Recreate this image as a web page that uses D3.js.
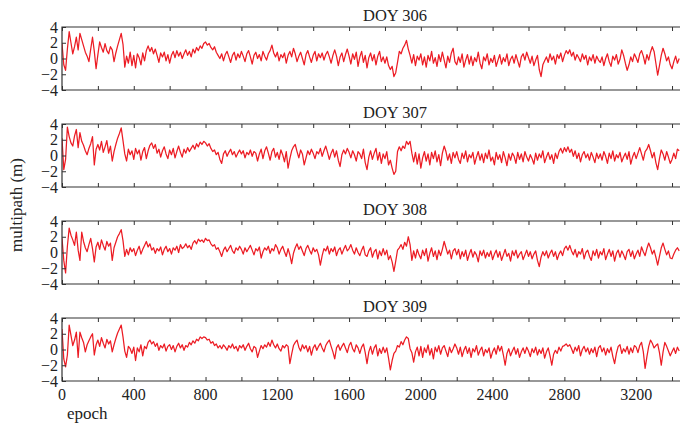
<html>
<head>
<meta charset="UTF-8">
<title>Multipath DOY 306-309</title>
<script src="https://d3js.org/d3.v7.min.js"></script>
<style>
  body { margin: 0; background: #fff; }
  text { font-family: "Liberation Serif", "DejaVu Serif", serif; fill: #222; }
  .frame { stroke: #333; stroke-width: 1.2; fill: none; }
  .tick line { stroke: #333; }
  .trace { fill: none; stroke: #ec1c24; stroke-width: 1.25; stroke-linejoin: round; }
</style>
</head>
<body>
<svg width="680" height="428"></svg>
<script>

// multipath (m), one value every 10 epochs
var doy306 = [
  1.9, -0.8, -1.5, 1.2, 3.4, 2.0, 0.6, 1.5, 2.7, 1.1, 3.2, 2.4, 1.6, 0.8, 0.3, -0.4, 1.2, 2.7, 0.9, -1.3,
  0.5, 2.1, 1.4, 0.8, 1.9, 1.0, 0.6, 1.5, 1.1, -0.4, 0.7, 1.6, 2.4, 3.2, 1.8, -1.1, 0.3, -0.6, 0.8, -0.9,
  0.4, -1.2, 0.6, 0.1, -0.8, 0.7, -0.3, 1.0, 1.6, 0.9, 1.4, 0.6, 1.2, 0.4, -0.5, 0.7, 0.2, 0.8, -0.3, 0.5,
  -0.6, 0.4, 0.9, 0.1, 1.0, 0.3, 0.8, 0.0, 0.6, 1.1, 0.4, 0.9, 0.2, 1.2, 0.7, 1.4, 1.0, 1.6, 1.3, 1.9,
  2.1, 1.7, 1.9, 1.4, 1.1, 1.5, 0.8, 0.4, 0.0, 0.6, -0.3, 0.5, 0.9, 0.2, -0.5, 0.4, 0.8, -0.2, 0.6, 0.1,
  0.9, 0.3, -0.4, 0.6, 1.0, 0.2, -0.7, 0.4, 0.8, 0.0, 0.5, -0.3, 0.9, 0.3, -0.2, 0.6, 1.0, 1.7, 0.7, 0.2,
  0.8, -0.3, 0.5, 0.1, 0.7, -0.6, 0.4, 0.9, 0.2, 1.3, 0.6, -0.4, 0.3, 0.8, 0.0, -0.8, 0.5, 1.0, 0.2, -0.5,
  0.4, 0.9, -0.3, 0.6, 0.1, 0.7, -0.2, 0.5, 0.9, 0.2, -0.6, 0.4, 1.1, 0.3, -0.9, 0.2, 0.7, -0.4, 0.5, 1.2,
  0.3, -0.7, 0.6, -0.1, 0.8, -1.0, 0.2, 0.9, -0.5, 0.4, -1.2, 0.1, 0.7, -0.3, 0.5, -0.8, 0.3, 0.9, -0.4, 0.2,
  -0.6, 0.2, -0.9, -1.4, -1.0, -2.3, -1.8, -0.5, 0.9, 0.6, 1.3, 1.7, 2.3, 1.2, 0.4, -0.6, 0.5, -0.9, 0.3, -0.2,
  0.6, -0.8, 0.2, -1.1, 0.4, -0.3, 0.9, -0.6, 0.1, -1.0, 0.5, -0.4, 0.8, -0.2, -1.2, 0.3, -0.5, 0.7, 1.3, -0.4,
  -0.8, 0.2, -0.5, 0.6, -1.1, -0.2, 0.5, -0.7, 0.3, -0.9, 0.1, -0.4, 0.8, -0.6, -1.3, 0.2, -0.3, 0.6, -0.8, 0.0,
  -0.5, 0.4, -1.0, -0.2, 0.5, -0.7, 0.1, -0.4, 0.6, -0.9, -0.1, 0.3, -0.6, 0.5, -0.3, -1.1, 0.2, 0.6, -0.2, 0.8,
  0.1, -0.6, 0.3, -0.9, -0.2, 0.4, -1.4, -2.3, -0.8, -0.3, 0.2, -0.5, 0.6, -0.2, 0.3, -0.7, 0.5, 0.0, 0.7, -0.4,
  0.4, 1.0, 0.6, 1.1, 0.3, 0.8, -0.2, 0.5, 0.1, -0.4, 0.6, -0.1, 0.4, -0.8, 0.2, -0.3, 0.5, -0.6, 0.3, -0.2,
  -0.5, 0.2, -0.9, 0.0, 0.6, -0.4, -1.0, 0.3, -0.2, 0.5, -0.7, -0.1, 1.1, 0.4, -0.6, -1.5, -0.8, 0.2, -0.4, 0.6,
  0.1, -0.5, 0.6, 1.0, 0.3, -0.7, 0.5, -0.2, 0.8, 1.5, 0.9, -0.6, -2.1, -0.9, 0.4, 1.3, 0.6, -0.3, 0.2, -0.8,
  -1.3, -0.4, 0.3, -0.6, 0.0
];

var doy307 = [
  2.2, -1.8, -0.5, 3.6, 2.4, 1.6, 1.2, 2.5, 3.3, 1.0, 2.9, 1.8, 1.3, 0.6, 0.1, 0.9, 1.5, 2.4, -1.2, 0.8,
  1.4, 0.7, 1.8, 0.4, 1.1, 1.9, 0.3, 1.2, -0.7, 0.5, 1.4, 2.2, 2.8, 3.5, 1.9, 0.2, -0.7, 0.8, 0.1, 0.6,
  -0.5, 0.9, 0.2, 0.7, -0.6, 0.5, 1.0, -0.4, 0.6, 1.3, 1.6, 0.9, 1.4, 0.3, 0.8, -0.2, 0.6, 1.1, 0.2, -0.4,
  0.7, 0.1, 0.9, -0.3, 0.5, 1.2, 0.4, -0.2, 0.8, 0.3, 1.0, 0.5, 0.9, 1.3, 0.8, 1.5, 1.1, 1.7, 1.4, 1.8,
  1.6, 1.2, 1.5, 0.9, 0.5, 0.7, 0.1, 0.4, -0.5, -1.0, 0.2, 0.6, -0.1, 0.4, 0.8, 0.1, 0.5, -0.2, 0.3, 0.7,
  0.2, 0.6, -0.3, 0.4, 0.1, 0.7, -0.1, 0.5, 0.3, -0.7, 0.2, 0.8, -0.4, 0.6, 1.1, 0.3, -0.6, 0.5, 0.9, -0.2,
  0.4, -0.5, 0.7, 0.1, -0.8, 0.5, -1.6, -0.4, 0.6, 1.1, 1.4, 0.5, -0.3, 0.7, 0.2, -1.2, -0.3, 0.6, 0.1, 0.8,
  0.3, -0.4, 0.5, 0.2, 0.9, -0.1, 0.6, 1.2, 0.4, -0.5, 0.3, 0.8, -0.2, 0.6, -0.6, -1.4, 0.1, 0.7, 0.2, 0.9,
  0.4, -0.3, 0.6, 0.1, -0.7, 0.5, 0.2, -0.4, 0.8, -0.9, -1.8, -0.2, 0.6, -0.5, 0.3, 0.9, -0.6, 0.4, -1.0, 0.2,
  -0.4, 0.5, -1.2, -0.6, -1.6, -2.4, -2.0, 0.5, 1.1, 0.6, 1.2, 0.9, 1.8, 1.4, 1.8, 0.3, -0.8, 0.4, -1.1, 0.2,
  -1.6, -0.3, 0.5, -0.7, 0.2, -1.2, 0.4, -0.4, 0.6, -0.8, 0.1, -1.3, 0.3, 1.2, 0.5, -0.6, 0.2, -1.0, 0.4, -0.3,
  0.5, -0.5, -1.0, 0.3, -0.4, 0.6, -0.8, 0.1, -0.3, 0.4, -1.1, -0.2, 0.5, -0.6, 0.2, -0.9, 0.3, -0.4, 0.7, -0.7,
  -0.2, -1.2, 0.4, -0.5, 0.1, -0.9, 0.5, -0.3, -1.3, 0.2, -0.6, 0.3, -0.1, -1.0, 0.4, -0.5, 0.2, -0.8, 0.5, -0.2,
  -0.7, 0.1, -0.4, -1.1, 0.3, -0.6, 0.2, -0.3, 0.6, -0.9, -0.2, 0.4, -0.5, 0.1, -1.0, 0.3, -0.4, 0.5, 0.9, 0.3,
  1.0, 0.5, 1.1, 0.4, 0.8, -0.1, 0.6, -0.4, 0.3, -0.8, 0.1, 0.5, -0.3, 0.2, -0.6, 0.4, -0.2, -0.9, 0.3, -0.4,
  0.2, -0.6, 0.5, -0.1, -1.0, 0.3, -0.4, 0.6, -0.7, 0.1, -0.3, 0.4, -0.8, -0.2, 0.3, -0.5, 0.5, -1.1, -0.2, 0.4,
  -0.4, 0.3, 1.0, 0.2, -0.6, 0.5, 0.8, 1.4, 0.6, -0.3, 0.4, -0.9, -1.8, -0.4, 0.7, 0.2, -0.6, 0.5, -0.2, -1.0,
  -0.5, 0.3, -0.4, 0.8, 0.6
];

var doy308 = [
  1.8, -1.0, -2.6, 0.8, 3.1, 2.2, 1.6, 0.9, 2.6, 0.3, -1.0, 2.6, 1.4, 0.6, 0.1, 1.0, 1.8, 0.5, -1.2, 0.7,
  1.3, 0.4, 1.6, 0.9, 0.3, 1.4, 0.8, 1.2, -1.0, 0.6, 1.3, 2.0, 2.4, 2.9, 1.5, -0.5, 0.4, -0.3, 0.6, 0.1,
  0.5, -0.4, 0.3, 0.8, -0.2, 0.4, 0.9, 1.4, 0.7, 1.1, 0.3, 0.6, -0.1, 0.5, 0.2, 0.7, -0.3, 0.4, 0.8, 0.1,
  0.5, -0.2, 0.6, 0.3, 0.8, 0.0, 1.0, 0.5, 0.7, 1.1, 0.6, 0.9, 0.4, 1.2, 1.5, 1.1, 1.7, 1.4, 1.6, 1.3,
  1.8, 1.5, 1.6, 1.1, 0.8, 1.0, 0.4, 0.6, 0.1, -0.5, 0.3, 0.7, 0.1, 0.5, 0.9, 0.2, -0.1, 0.6, 0.3, 0.8,
  0.4, -0.2, 0.6, 0.1, 0.5, 0.9, 0.3, -0.3, 0.5, 0.2, 0.7, -0.7, 0.1, 0.6, 0.3, 0.8, -0.1, 0.5, 0.2, 1.0,
  0.6, -0.2, 0.4, 0.8, 0.1, -0.5, 0.5, -0.3, -1.4, -0.1, 0.6, 1.1, 0.4, 0.8, 0.2, -0.4, 0.5, 0.9, 0.3, -0.2,
  0.6, 0.1, 0.4, -0.3, -1.6, -0.4, 0.5, 0.2, 0.8, -0.2, 0.5, 0.1, 0.7, -0.4, 0.3, 0.6, -0.2, 0.4, 0.9, 0.2,
  0.5, 1.0, 0.3, -0.2, 0.6, 0.0, -0.4, 0.3, 0.8, -0.3, -0.5, 0.2, 0.6, -0.6, 0.1, 0.4, -0.8, 0.2, -0.4, 0.5,
  -0.3, 0.3, -0.9, -0.4, -1.2, -2.4, -1.1, 0.3, 0.6, 1.0, 0.4, 1.3, 0.8, 2.0, 1.0, -1.0, 0.2, -0.7, 0.4, -0.3,
  -0.8, 0.3, -0.4, 0.5, -1.1, -0.1, 0.6, -0.5, 0.2, -0.9, 0.3, -0.4, 0.4, 1.4, 0.6, -0.2, 0.3, -0.8, 0.2, 0.5,
  -0.3, 0.4, -0.8, 0.1, -0.5, 0.3, -1.0, -0.2, 0.4, -0.6, 0.1, -0.3, -1.2, 0.2, -0.4, 0.3, -0.7, 0.0, -0.5, 0.2,
  -0.9, -0.2, 0.3, -0.6, 0.1, -1.0, -0.3, 0.4, -0.5, -0.1, -1.1, 0.2, -0.4, 0.3, -0.7, -0.2, 0.1, -0.9, -0.3, 0.3,
  -0.5, 0.1, -0.8, -0.2, 0.2, -1.0, -1.8, -0.6, 0.1, -0.4, 0.2, -0.7, -0.1, 0.3, -0.5, 0.1, -0.9, -0.2, 0.2, -0.4,
  0.5, 0.8, 0.3, 0.9, 0.2, -0.3, 0.4, -0.6, 0.1, -0.2, 0.5, -0.8, 0.0, 0.3, -0.5, -1.0, 0.2, -0.4, 0.4, -0.7,
  0.1, -0.3, 0.5, -0.9, -0.2, 0.4, -0.5, 0.2, -1.1, -0.1, 0.3, -0.6, 0.2, -0.3, -0.9, 0.1, 0.4, -0.5, 0.2, -0.8,
  -0.2, 0.3, -0.5, 0.7, 0.1, -0.4, 0.5, 1.2, 0.6, -0.2, 0.3, -0.6, -1.6, -0.5, 0.6, 1.2, 0.4, -0.3, 0.2, -0.7,
  -0.8, -0.2, 0.3, 0.6, 0.2
];

var doy309 = [
  2.6, -1.2, -2.2, -0.7, 3.1, 1.8, 0.5, 1.2, 2.2, -1.0, 2.2, 1.5, 0.9, -0.3, 0.6, 1.1, 1.6, 2.0, -0.7, 0.6,
  1.2, 0.4, 1.5, 0.8, 0.2, 1.3, 0.7, 1.1, -0.3, 0.6, 1.4, 2.1, 2.6, 3.1, 1.6, -0.2, -1.0, 0.4, 0.1, -0.5,
  0.3, -1.4, 0.2, -0.3, 0.6, -0.8, 0.4, 0.1, 0.9, 1.2, 0.7, 1.0, 0.4, 0.8, -0.1, 0.5, 0.2, 0.7, -0.2, 0.4,
  0.6, 0.0, 0.5, -0.3, 0.4, 0.8, 0.2, 0.6, -0.1, 0.5, 0.3, 0.9, 0.6, 1.1, 0.8, 1.3, 1.1, 1.6, 1.4, 1.6,
  1.5, 1.2, 1.3, 0.8, 1.0, 0.5, 0.7, 0.2, 0.5, 0.1, 0.6, 0.3, -0.1, 0.5, 0.2, 0.7, 0.1, 0.4, -0.2, 0.5,
  0.2, 0.6, -0.1, 0.4, 0.8, 0.1, -0.3, 0.4, 0.2, -1.0, -0.2, 0.5, 0.1, 0.6, 0.3, 0.9, 0.4, 1.2, 0.6, 0.2,
  0.7, 0.1, -0.2, 0.5, 0.2, 0.6, 0.4, -1.8, -0.6, 0.5, 0.9, 1.2, 0.3, -0.2, 0.6, 0.1, 0.5, -0.3, 0.4, -0.7,
  0.2, 0.6, -0.1, 0.4, 0.8, 0.2, -0.3, 0.5, 0.9, 1.2, 0.4, -0.3, -1.2, 0.2, 0.6, -0.1, 0.4, 0.8, 0.2, -0.4,
  0.5, 0.9, 0.1, -0.3, 0.6, 0.2, -0.5, 0.3, 0.7, -0.4, -1.8, -0.3, 0.4, -0.6, 0.2, 0.6, -0.8, 0.1, -0.5, 0.3,
  -0.4, 0.2, -1.1, -2.6, -1.4, -0.5, -0.2, 0.5, 0.3, 1.0, 0.6, 1.2, 1.6, 1.4, 0.1, -0.4, -1.6, -0.3, 0.3, -0.8,
  0.4, -1.0, 0.2, -0.4, 0.6, -0.7, 0.1, -1.2, 0.3, -0.3, 0.5, -0.6, 0.2, 0.5, -0.2, -0.9, 0.3, -0.4, 0.1, 0.7,
  0.2, -0.6, 0.3, -0.9, -0.1, 0.4, -0.5, 0.2, -1.0, 0.1, -0.3, 0.5, -0.7, -0.1, 0.3, -0.8, 0.0, -0.4, 0.2, -1.1,
  -0.3, 0.2, -0.6, 0.5, -0.2, 0.4, -0.7, -2.0, -0.5, 0.1, -0.8, -0.2, 0.3, -0.6, 0.1, -1.0, -0.3, 0.2, -0.5, 0.3,
  -0.2, -0.9, 0.1, -0.4, 0.3, -0.7, 0.0, -0.5, 0.2, -1.1, -0.3, 0.2, -0.8, -2.0, -0.6, -0.1, -0.5, 0.3, -0.2, 0.4,
  0.5, 0.7, 0.4, 0.6, 0.1, -0.5, 0.3, -0.2, 0.5, -0.8, 0.0, 0.4, -0.3, 0.2, -0.6, 0.1, -0.4, 0.3, -0.9, 0.2,
  0.5, -0.3, 0.2, -0.7, 0.1, -0.4, 0.3, -0.9, -1.8, -0.5, 0.4, 0.6, -0.5, 0.1, -0.3, 0.4, -0.6, 0.2, -0.4, 0.5,
  0.3, -0.4, 0.5, 0.9, -0.3, -2.4, -0.9, 0.4, 1.2, 0.8, 0.2, 0.5, 0.7, -0.4, -2.0, -0.3, 0.9, 0.4, -0.2, -0.8,
  -0.3, 0.2, -0.5, 0.3, -0.2
];

var STEP = 10; // epochs between samples
var days = ["DOY 306", "DOY 307", "DOY 308", "DOY 309"];
var series = [doy306, doy307, doy308, doy309];
var yTicks = [-4, -2, 0, 2, 4];
var xMinorTicks = d3.range(0, 3450, 200);
var xLabels = [0, 400, 800, 1200, 1600, 2000, 2400, 2800, 3200];

var svg = d3.select("svg");

var left = 62, right = 681;
var panelTop = 27, panelH = 63, panelGap = 97;

var x = d3.scaleLinear()
    .domain([0, 3450])
    .range([left, right]);

series.forEach(function(vals, k) {
  var top = panelTop + k * panelGap;
  var y = d3.scaleLinear()
      .domain([-4, 4])
      .range([top + panelH, top]);

  var g = svg.append("g").attr("class", "panel");

  g.append("text")
      .attr("x", 395)
      .attr("y", top - 6)
      .attr("text-anchor", "middle")
      .style("font-size", "16.5px")
      .text(days[k]);

  // clip so the trace stays inside the box
  svg.append("clipPath").attr("id", "clip" + k)
    .append("rect")
      .attr("x", left).attr("y", top)
      .attr("width", right - left).attr("height", panelH);

  var line = d3.line()
      .x(function(d, i) { return x(i * STEP); })
      .y(function(d) { return y(d); });

  g.append("path")
      .datum(vals)
      .attr("class", "trace")
      .attr("clip-path", "url(#clip" + k + ")")
      .attr("d", line);

  // inward ticks on bottom and top
  g.append("g")
      .attr("transform", "translate(0," + (top + panelH) + ")")
      .call(d3.axisTop(x).tickValues(xMinorTicks).tickSize(4).tickFormat(""))
      .call(function(a) { a.select(".domain").remove(); });
  g.append("g")
      .attr("transform", "translate(0," + top + ")")
      .call(d3.axisBottom(x).tickValues(xMinorTicks).tickSize(4).tickFormat(""))
      .call(function(a) { a.select(".domain").remove(); });

  // y axis, ticks pointing in
  var ya = g.append("g")
      .attr("transform", "translate(" + left + ",0)")
      .call(d3.axisRight(y).tickValues(yTicks).tickSize(4).tickFormat(""));
  ya.select(".domain").remove();

  g.selectAll(".ylab")
    .data(yTicks)
    .enter().append("text")
      .attr("class", "ylab")
      .attr("x", left - 4)
      .attr("y", function(d) { return y(d); })
      .attr("dy", "0.35em")
      .attr("text-anchor", "end")
      .style("font-size", "16px")
      .text(function(d) { return d < 0 ? "\u2212" + Math.abs(d) : d; });

  g.append("path")
      .attr("class", "frame")
      .attr("d", "M" + right + "," + top + "H" + left + "V" + (top + panelH) + "H" + right);

  if (k === series.length - 1) {
    g.selectAll(".xlab")
      .data(xLabels)
      .enter().append("text")
        .attr("class", "xlab")
        .attr("x", function(d) { return x(d); })
        .attr("y", top + panelH + 19)
        .attr("text-anchor", "middle")
        .style("font-size", "16px")
        .text(function(d) { return d; });
  }
});

svg.append("text")
    .attr("x", 67)
    .attr("y", 419)
    .style("font-size", "17px")
    .text("epoch");

svg.append("text")
    .attr("transform", "translate(22,205) rotate(-90)")
    .attr("text-anchor", "middle")
    .style("font-size", "17px")
    .text("multipath (m)");

</script>
</body>
</html>
